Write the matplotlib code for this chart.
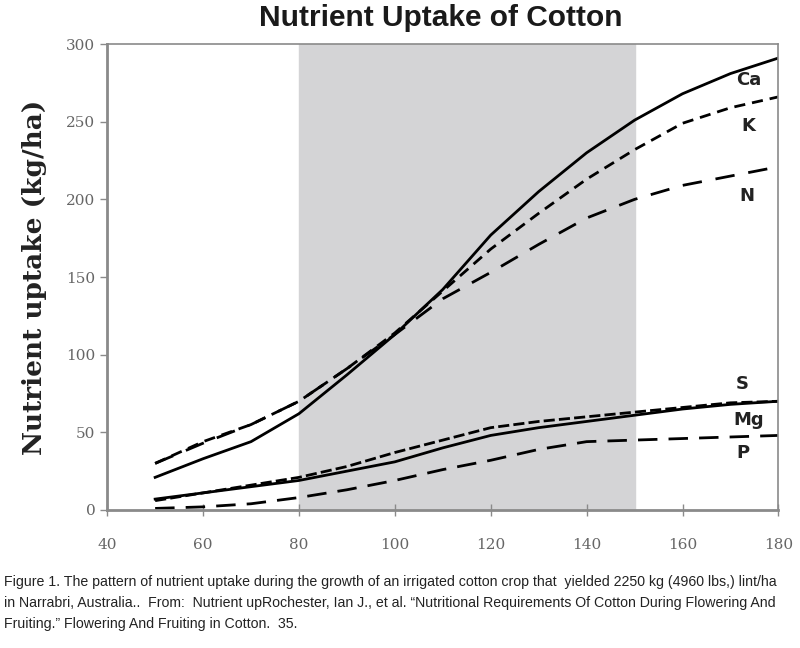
import matplotlib
matplotlib.use("Agg")
import matplotlib.pyplot as plt

# days after sowing
days = [50, 60, 70, 80, 90, 100, 110, 120, 130, 140, 150, 160, 170, 180]

ca = [21, 33, 44, 62, 87, 113, 142, 177, 205, 230, 251, 268, 281, 291]
k = [30, 44, 55, 70, 91, 114, 141, 168, 191, 213, 232, 249, 259, 266]
n = [30, 43, 55, 70, 91, 113, 136, 153, 171, 188, 200, 209, 215, 221]
s = [6, 11, 16, 21, 28, 37, 45, 53, 57, 60, 63, 66, 69, 70]
mg = [7, 11, 15, 19, 25, 31, 40, 48, 53, 57, 61, 65, 68, 70]
p = [1, 2, 4, 8, 13, 19, 26, 32, 39, 44, 45, 46, 47, 48]

labels = ["Ca", "K", "N", "S", "Mg", "P"]
label_x = [173.8, 173.8, 173.4, 172.5, 173.8, 172.5]
label_y = [277, 247, 202, 81, 58, 37]

flower_start, flower_end = 80, 150

fig = plt.figure(figsize=(8.0, 6.48), dpi=100)
ax = fig.add_axes([0.134, 0.213, 0.839, 0.719])

ax.axvspan(flower_start, flower_end, color="#d4d4d6", zorder=0)

ax.plot(days, ca, color="black", lw=2, linestyle="-")
ax.plot(days, k, color="black", lw=2, linestyle=(0, (4, 2.5)))
ax.plot(days, n, color="black", lw=2, linestyle=(0, (7, 5)))
ax.plot(days, s, color="black", lw=2, linestyle=(0, (4, 1.5)))
ax.plot(days, mg, color="black", lw=2, linestyle="-")
ax.plot(days, p, color="black", lw=2, linestyle=(0, (7, 4)))

for lab, lx, ly in zip(labels, label_x, label_y):
    ax.text(lx, ly, lab, fontsize=13, fontweight="bold", color="#222222",
            family="DejaVu Sans", ha="center", va="center")

ax.set_xlim(40, 180)
ax.set_ylim(0, 300)
ax.set_xticks(range(40, 181, 20))
ax.set_yticks(range(0, 301, 50))

for side in ["top", "right"]:
    ax.spines[side].set_color("#8a8a8a")
    ax.spines[side].set_linewidth(1.2)
for side in ["left", "bottom"]:
    ax.spines[side].set_color("#8a8a8a")
    ax.spines[side].set_linewidth(2)

ax.tick_params(axis="both", colors="#8a8a8a", labelcolor="#666666",
               labelsize=11, length=5, width=1)
ax.tick_params(axis="x", direction="inout", pad=16, length=8)
for t in ax.get_xticklabels() + ax.get_yticklabels():
    t.set_family("DejaVu Serif")

ax.set_ylabel("Nutrient uptake (kg/ha)", fontsize=19, fontweight="bold",
              family="DejaVu Serif", color="#222222", labelpad=14)

fig.text(0.551, 0.972, "Nutrient Uptake of Cotton", fontsize=21.5,
         fontweight="bold", ha="center", va="center",
         family=["Liberation Sans", "DejaVu Sans"], color="#1a1a1a")

caption = ("Figure 1. The pattern of nutrient uptake during the growth of an irrigated cotton crop that  yielded 2250 kg (4960 lbs,) lint/ha\n"
           "in Narrabri, Australia..  From:  Nutrient upRochester, Ian J., et al. \u201cNutritional Requirements Of Cotton During Flowering And\n"
           "Fruiting.\u201d Flowering And Fruiting in Cotton.  35.")
fig.text(0.005, 0.069, caption, fontsize=10.2, ha="left", va="center",
         family=["Liberation Sans", "DejaVu Sans"], color="#222222",
         linespacing=1.65)

fig.savefig("out.png", dpi=100)
